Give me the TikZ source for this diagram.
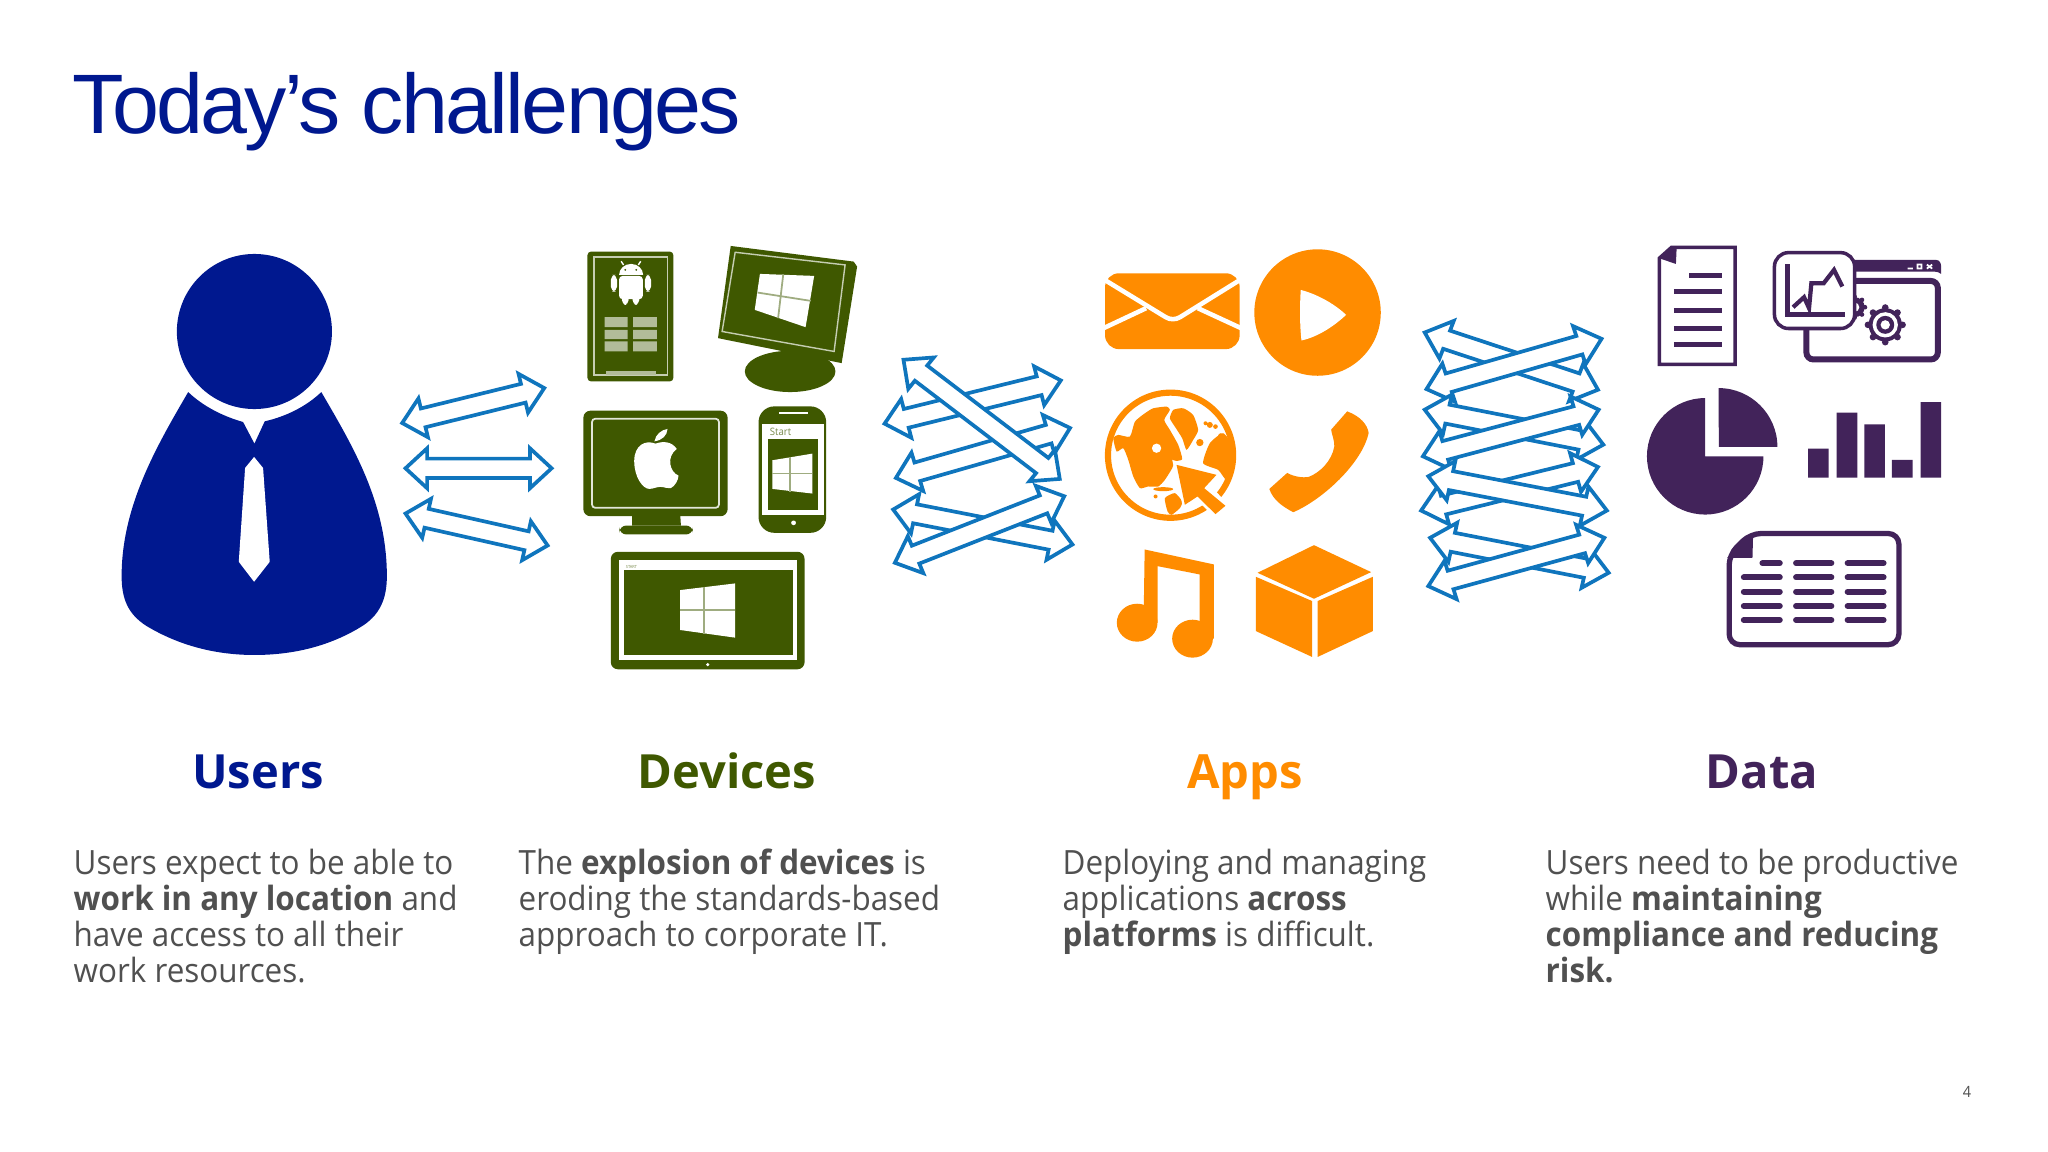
\documentclass[tikz,border=0pt]{standalone}
\usepackage{fontspec}
\setmainfont{Open Sans}[FakeStretch=0.94]
\newfontfamily\headfont{Open Sans}
\newfontfamily\titlefont[LetterSpace=-3.2]{Liberation Sans}
\definecolor{ublue}{HTML}{00188F}
\definecolor{dgreen}{HTML}{3F5800}
\definecolor{aorange}{HTML}{FF8C00}
\definecolor{dpurple}{HTML}{42235A}
\definecolor{abl}{HTML}{0F75BD}
\definecolor{bodygrey}{HTML}{505050}
\tikzset{
  zA/.style={shift={(100,230)},x=0.0033333cm,y=-0.0033333cm},
  zB/.style={shift={(560,220)},x=0.003438cm,y=-0.0033333cm},
  zC/.style={shift={(1080,230)},x=0.003574cm,y=-0.0033333cm},
  zD/.style={shift={(1620,230)},x=0.0033333cm,y=-0.0033333cm},
  zG/.style={shift={(1095,380)},x=0.0033333cm,y=-0.0033333cm},
  blockarrow/.style={draw=abl,fill=white,line width=1.05pt,miter limit=10},
  heading/.style={font=\headfont\fontsize{13.4pt}{16pt}\selectfont\bfseries,anchor=base},
  bodytext/.style={font=\fontsize{9.5pt}{10.25pt}\selectfont,text=bodygrey,anchor=north west,align=left,inner sep=0pt},
}
% double block arrow between two tips
\newcommand{\dbl}[4]{%
  \pgfmathsetmacro\dL{veclen(#3-#1,#4-#2)}%
  \pgfmathsetmacro\ux{(#3-#1)/\dL}\pgfmathsetmacro\uy{(#4-#2)/\dL}%
  \pgfmathsetmacro\hdx{65*\ux}\pgfmathsetmacro\hdy{65*\uy}%
  \pgfmathsetmacro\sx{-29*\uy}\pgfmathsetmacro\sy{29*\ux}%
  \pgfmathsetmacro\wx{-60*\uy}\pgfmathsetmacro\wy{60*\ux}%
  \draw[blockarrow] (#1,#2)
    -- ({#1+\hdx+\wx},{#2+\hdy+\wy}) -- ({#1+\hdx+\sx},{#2+\hdy+\sy})
    -- ({#3-\hdx+\sx},{#4-\hdy+\sy}) -- ({#3-\hdx+\wx},{#4-\hdy+\wy})
    -- (#3,#4)
    -- ({#3-\hdx-\wx},{#4-\hdy-\wy}) -- ({#3-\hdx-\sx},{#4-\hdy-\sy})
    -- ({#1+\hdx-\sx},{#2+\hdy-\sy}) -- ({#1+\hdx-\wx},{#2+\hdy-\wy}) -- cycle;}
\begin{document}
\begin{tikzpicture}[x=0.01cm,y=-0.01cm]
\useasboundingbox (0,0) rectangle (2048,1152);
\fill[white] (0,0) rectangle (2048,1152);

% Title
\node[anchor=base west,inner sep=0pt,text=ublue,font=\titlefont\fontsize{24pt}{28pt}\selectfont] (title) at (72,134) {Today’s challenges};

% ---- person
\begin{scope}[zA]
\fill[ublue] (464,305) circle[radius=233];
\fill[ublue] (265,487) .. controls (310,530) and (370,560) .. (430,577) -- (464,642) -- (495,575)
  .. controls (560,560) and (620,530) .. (665,487)
  .. controls (760,650) and (862,820) .. (862,1040)
  .. controls (862,1110) and (840,1160) .. (780,1195)
  .. controls (680,1255) and (570,1277) .. (464,1277)
  .. controls (350,1277) and (240,1250) .. (140,1190)
  .. controls (85,1155) and (65,1110) .. (65,1040)
  .. controls (65,830) and (170,650) .. (265,487) -- cycle;
\fill[white] (463,682) -- (490,715) -- (510,997) -- (463,1057) -- (417,997) -- (436,715) -- cycle;
\dbl{908}{580}{1335}{475}
\dbl{918}{716}{1357}{716}
\dbl{918}{852}{1345}{948}
\end{scope}

% ---- devices
\begin{scope}[zB]
% android tablet
\fill[dgreen,rounded corners=1pt] (80,95) rectangle (330,485);
\draw[white!70!dgreen,line width=0.5pt] (98,112) rectangle (313,465);
\fill[white!60!dgreen] (135,455) rectangle (280,465);
\fill[white] (172,165) arc[start angle=180,end angle=360,x radius=35,y radius=33] -- cycle;
\draw[white,line width=0.4pt] (185,135) -- (178,124) (228,135) -- (235,124);
\fill[dgreen] (190,150) circle[radius=3] (222,150) circle[radius=3];
\fill[white,rounded corners=1pt] (172,168) rectangle (241,238);
\fill[white,rounded corners=1.4pt] (148,165) rectangle (166,215) (247,165) rectangle (265,215)
   (180,225) rectangle (200,255) (211,225) rectangle (231,255);
\fill[white!60!dgreen] (130,292) rectangle (197,322) (213,292) rectangle (282,322)
   (130,330) rectangle (197,358) (213,330) rectangle (282,358)
   (130,365) rectangle (197,395) (213,365) rectangle (282,395);
% tilted monitor
\fill[dgreen] (670,455) ellipse[x radius=132,y radius=62];
\fill[dgreen] (497,78) -- (855,125) -- (865,140) -- (820,430) -- (460,355) -- cycle;
\draw[white!70!dgreen,line width=0.4pt] (510,97) -- (830,135) -- (798,395) -- (472,335) -- cycle;
\fill[white] (582,162) -- (740,168) -- (715,322) -- (567,270) -- cycle;
\draw[dgreen!50!white,line width=0.5pt] (650,163) -- (635,295) (575,218) -- (730,243);
% mac
\fill[dgreen,rounded corners=2pt] (68,573) rectangle (488,890);
\draw[white!85!dgreen,line width=0.5pt,rounded corners=1pt] (93,597) rectangle (463,865);
\fill[dgreen] (210,885) -- (350,885) -- (352,918) -- (210,918) -- cycle;
\fill[dgreen,rounded corners=2pt] (173,918) rectangle (387,945);
\fill[white] (278,672) .. controls (250,660) and (216,675) .. (216,725)
   .. controls (216,770) and (240,808) .. (260,808)
   .. controls (272,808) and (280,802) .. (292,802)
   .. controls (305,802) and (312,808) .. (322,806)
   .. controls (335,800) and (345,780) .. (345,768)
   .. controls (320,758) and (308,712) .. (340,688)
   .. controls (325,665) and (300,664) .. (278,672) -- cycle;
\fill[white] (275,665) .. controls (278,645) and (295,630) .. (313,628)
   .. controls (312,648) and (297,662) .. (275,665) -- cycle;
% phone
\fill[dgreen,rounded corners=4.5pt] (578,560) rectangle (775,940);
\fill[white] (587,612) rectangle (768,885);
\fill[dgreen] (605,658) rectangle (750,872);
\fill[white] (638,577) rectangle (722,584);
\fill[white] (680,910) circle[radius=7];
\node[text=dgreen!70!white,font=\fontsize{2.9pt}{3pt}\selectfont,inner sep=0pt] (phonestart) at (642,637) {Start};
\fill[white] (618,722) -- (735,702) -- (735,822) -- (618,808) -- cycle;
\draw[dgreen!50!white,line width=0.5pt] (670,712) -- (670,816) (618,762) -- (735,762);
% surface
\fill[dgreen,rounded corners=2pt] (148,997) rectangle (712,1350);
\fill[white] (173,1023) rectangle (690,1322);
\fill[dgreen] (187,1052) rectangle (678,1308);
\node[text=dgreen!70!white,font=\fontsize{1.2pt}{1.4pt}\selectfont,inner sep=0pt] (surfacestart) at (208,1042) {START};
\fill[white] (430,1336) circle[radius=5];
\fill[white] (350,1112) -- (510,1092) -- (510,1255) -- (350,1232) -- cycle;
\draw[dgreen!50!white,line width=0.5pt] (420,1102) -- (420,1245) (350,1172) -- (510,1172);
% arrows
\dbl{945}{612}{1458}{482}
\dbl{978}{775}{1485}{625}
\dbl{1000}{420}{1455}{778}
\dbl{970}{870}{1492}{975}
\dbl{975}{1030}{1468}{830}
\end{scope}

% ---- globe
\begin{scope}[zG]
\draw[aorange,line width=1.75pt] (227,226) circle[radius=188];
\fill[aorange] plot[smooth cycle,tension=0.35] coordinates {(55,175) (70,165) (105,170) (120,125) (150,100) (175,85) (215,80) (225,90) (208,120) (225,150) (250,195) (262,238) (240,245) (232,265) (210,300) (190,320) (160,320) (135,325) (115,290) (100,240) (85,205) (65,215)};
\fill[aorange] plot[smooth cycle,tension=0.35] coordinates {(235,90) (265,85) (295,105) (310,150) (295,180) (275,210) (262,175) (240,140) (225,115)};
\fill[white] (185,205) circle[radius=14];
\fill[aorange] (315,188) circle[radius=11] (345,135) circle[radius=9] (332,130) circle[radius=6] (362,140) circle[radius=7] (378,168) circle[radius=8];
\fill[aorange] plot[smooth cycle,tension=0.35] coordinates {(325,250) (345,190) (385,160) (415,200) (420,260) (395,300) (370,270)};
\fill[aorange] plot[smooth cycle,tension=0.35] coordinates {(210,355) (240,340) (262,365) (255,385) (230,405) (218,395)};
\fill[aorange] (205,328) ellipse[x radius=30,y radius=6] (182,350) circle[radius=6];
\fill[white] (232,240) -- (380,285) -- (350,320) -- (400,375) -- (360,412) -- (310,365) -- (265,385) -- cycle;
\fill[aorange] (245,255) -- (365,285) -- (328,325) -- (392,378) -- (362,403) -- (308,350) -- (270,375) -- cycle;
\end{scope}

% ---- apps
\begin{scope}[zC]
% envelope
\fill[aorange,rounded corners=4pt] (70,130) rectangle (447,358);
\draw[white,line width=1.3pt] (66,148) -- (240,262) .. controls (252,270) and (268,270) .. (280,262) -- (451,148);
\draw[white,line width=1.3pt] (66,295) -- (185,235) (451,295) -- (330,235);
% play
\fill[aorange] (665,248) ellipse[x radius=177,y radius=190];
\fill[white] (618,180) .. controls (670,195) and (715,225) .. (745,255)
  .. controls (715,285) and (670,320) .. (620,332) .. controls (615,285) and (615,230) .. (618,180) -- cycle;
% handset
\fill[aorange] (748,545) .. controls (785,560) and (805,585) .. (808,610)
  .. controls (790,700) and (680,810) .. (597,848)
  .. controls (565,830) and (540,810) .. (530,778) -- (580,730)
  .. controls (600,742) and (625,745) .. (640,742)
  .. controls (670,730) and (705,695) .. (712,650)
  .. controls (712,630) and (705,615) .. (703,600) -- cycle;
% note
\fill[aorange] (160,1180) circle[radius=57] (315,1228) circle[radius=57];
\fill[aorange] (181,960) -- (375,1005) -- (375,1228) -- (335,1228) -- (335,1035) -- (217,1010) -- (217,1180) -- (178,1180) -- cycle;
% cube
\fill[aorange] (655,947) -- (815,1028) -- (655,1108) -- (497,1030) -- cycle;
\fill[aorange] (492,1042) -- (650,1115) -- (650,1283) -- (492,1205) -- cycle;
\fill[aorange] (665,1115) -- (820,1042) -- (820,1205) -- (665,1283) -- cycle;
% arrows
\dbl{965}{308}{1450}{480}
\dbl{970}{478}{1460}{327}
\dbl{965}{540}{1465}{645}
\dbl{960}{680}{1452}{540}
\dbl{955}{843}{1450}{712}
\dbl{975}{740}{1475}{843}
\dbl{980}{925}{1480}{1030}
\dbl{975}{1070}{1468}{925}
\end{scope}

% ---- data
\begin{scope}[zD]
% document
\draw[dpurple,line width=1pt] (155,52) -- (346,52) -- (346,404) -- (118,404) -- (118,85) -- cycle;
\fill[dpurple] (155,48) -- (170,58) -- (168,102) -- (118,85) -- cycle;
\draw[dpurple,line width=1.4pt] (208,138) -- (305,138) (162,186) -- (305,186) (162,241) -- (305,241) (162,295) -- (305,295) (162,345) -- (307,345);
% window
\draw[dpurple,line width=1.7pt,rounded corners=2pt] (560,153) rectangle (955,389);
\fill[dpurple] (700,90) -- (950,90) .. controls (960,90) and (965,100) .. (965,110) -- (965,132) .. controls (958,128) and (955,125) .. (945,125) -- (700,125) -- cycle;
\draw[white,line width=0.5pt] (864,116) -- (880,116) (894,104) rectangle (906,116) (922,104) -- (938,116) (938,104) -- (922,116);
% small gear
\fill[dpurple] (705,232) circle[radius=30];
\foreach \a in {0,45,...,315} {\fill[dpurple] ({705+31*cos(\a)},{232+31*sin(\a)}) circle[radius=7];}
\fill[white] (705,232) circle[radius=14];
% big gear
\fill[dpurple] (797,285) circle[radius=50];
\foreach \a in {0,45,...,315} {\fill[dpurple] ({797+52*cos(\a)},{285+52*sin(\a)}) circle[radius=10];}
\fill[white] (797,285) circle[radius=38];
\fill[dpurple] (797,285) circle[radius=27];
\fill[white] (797,285) circle[radius=14];
% chart card
\draw[dpurple,fill=white,line width=1pt,rounded corners=4pt] (464,68) rectangle (705,296);
\draw[dpurple,line width=1.4pt] (502,103) -- (502,255) -- (675,255);
\draw[dpurple,line width=1.2pt] (520,232) -- (553,202) -- (568,235) -- (575,160) -- (612,160) -- (643,120) -- (668,170);
% pie
\fill[dpurple] (256,680) -- (256,505) arc[start angle=-90,end angle=-360,radius=175] -- cycle;
\fill[dpurple] (297,652) -- (473,652) arc[start angle=0,end angle=-90,radius=177] -- cycle;
% bars
\fill[dpurple] (565,657) rectangle (627,744) (651,549) rectangle (713,744) (734,584) rectangle (796,744) (817,691) rectangle (879,744) (903,517) rectangle (965,744);
% table doc
\draw[dpurple,line width=1.5pt,rounded corners=3pt] (392,912) -- (838,912) -- (838,1246) -- (328,1246) -- (328,975) -- cycle;
\fill[dpurple] (400,915) -- (398,985) -- (322,985) -- cycle;
\draw[dpurple,line width=1.7pt,line cap=round]
  (428,1001) -- (480,1001) (529,1001) -- (635,1001) (684,1001) -- (792,1001)
  (372,1044) -- (480,1044) (529,1044) -- (635,1044) (684,1044) -- (792,1044)
  (372,1087) -- (480,1087) (529,1087) -- (635,1087) (684,1087) -- (792,1087)
  (372,1130) -- (480,1130) (529,1130) -- (635,1130) (684,1130) -- (792,1130)
  (372,1172) -- (480,1172) (529,1172) -- (635,1172) (684,1172) -- (792,1172);
\end{scope}

% ---- headings
\node[heading,text=ublue] (husers) at (258,788.5) {Users};
\node[heading,text=dgreen] (hdevices) at (727,788.5) {Devices};
\node[heading,text=aorange] (happs) at (1245,788.5) {Apps};
\node[heading,text=dpurple] (hdata) at (1762,788.5) {Data};

% ---- body
\node[bodytext] (tusers) at (73,848) {Users expect to be able to\\\textbf{work in any location} and\\have access to all their\\work resources.};
\node[bodytext] (tdevices) at (518,848) {The \textbf{explosion of devices} is\\eroding the standards-based\\approach to corporate IT.};
\node[bodytext] (tapps) at (1062,848) {Deploying and managing\\applications \textbf{across}\\\textbf{platforms} is difficult.};
\node[bodytext] (tdata) at (1545,848) {Users need to be productive\\while \textbf{maintaining}\\\textbf{compliance and reducing}\\\textbf{risk.}};

\node[text=bodygrey,font=\fontsize{4.4pt}{5pt}\selectfont,inner sep=0pt] (pagenum) at (1967,1092) {4};
\end{tikzpicture}
\end{document}
